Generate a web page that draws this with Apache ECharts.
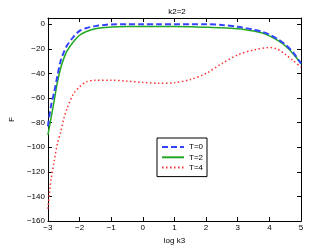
<!DOCTYPE html>
<html><head><meta charset="utf-8">
<script src="https://cdn.jsdelivr.net/npm/echarts@6/dist/echarts.min.js"></script>
<style>html,body{margin:0;padding:0;background:#fff}#c{width:332px;height:250px}</style>
</head><body><div id="c"></div>
<script>
const titleText = 'k2=2';
const xName = 'log k3';
const yName = 'F';
const seriesNames = ['T=0', 'T=2', 'T=4'];

const xT0 = [-3, -2.9, -2.8, -2.7, -2.6, -2.5, -2.4, -2.2, -2, -1.8, -1.5, -1.2, -1, -0.5, 0, 0.5, 1, 1.5, 2, 2.5, 3, 3.25, 3.5, 3.75, 4, 4.25, 4.5, 4.75, 5];
const yT0 = [-83, -66, -55, -42, -30, -23, -17.5, -10.5, -5.5, -3.3, -1.6, -0.6, -0.2, 0, 0, 0, 0, 0, -0.1, -0.6, -2.2, -3.2, -4.5, -6, -8.5, -12, -16.5, -23, -32];

const xT2 = [-3, -2.9, -2.8, -2.7, -2.6, -2.5, -2.4, -2.2, -2, -1.8, -1.5, -1.2, -1, -0.5, 0, 0.5, 1, 1.5, 2, 2.5, 3, 3.25, 3.5, 3.75, 4, 4.25, 4.5, 4.75, 5];
const yT2 = [-90, -76, -62, -47, -36, -28, -22, -14.5, -9, -6.2, -3.8, -2.8, -2.3, -2, -2, -2, -2, -2.1, -2.5, -3, -3.8, -4.5, -5.5, -7, -9.5, -13, -17.5, -24, -32];

const xT4 = [-3, -2.95, -2.9, -2.8, -2.7, -2.6, -2.5, -2.4, -2.2, -2, -1.8, -1.5, -1, -0.5, 0, 0.5, 1, 1.5, 2, 2.5, 3, 3.5, 4, 4.25, 4.5, 4.75, 5];
const yT4 = [-150, -137, -126, -111, -97, -88, -77, -69, -57, -51, -47, -45.5, -45.5, -46.3, -47.3, -48, -47.5, -45, -40, -32, -25, -21, -19, -20.3, -24.5, -29.5, -35];

const xTicks = [-3, -2, -1, 0, 1, 2, 3, 4, 5];
const yTicks = [-160, -140, -120, -100, -80, -60, -40, -20, 0];

function pairs(xs, ys) { return xs.map((x, i) => [x, ys[i]]); }
const fmt = v => String(v).replace('-', '\u2212');

const font = 'Liberation Sans';
const axisLine = { show: true, onZero: false, lineStyle: { color: '#000', width: 1 } };
const tick = { show: true, inside: true, length: 4, lineStyle: { color: '#000' } };

const chart = echarts.init(document.getElementById('c'), null, { renderer: 'canvas' });
chart.setOption({
  animation: false,
  backgroundColor: '#fff',
  textStyle: { fontFamily: font },
  title: { text: titleText, left: 172, top: 3, textAlign: 'center',
    textStyle: { fontFamily: font, fontSize: 8, fontWeight: 'normal', color: '#000' } },
  grid: { left: 43, right: 31, top: 18, bottom: 28, containLabel: false },
  legend: {
    orient: 'vertical', left: 157, top: 138,
    padding: [5, 4, 5, 4], itemGap: 2.3, itemWidth: 22, itemHeight: 8,
    backgroundColor: '#fff', borderColor: '#000', borderWidth: 1, borderRadius: 0,
    itemStyle: { opacity: 0 },
    textStyle: { fontFamily: font, fontSize: 8, color: '#000', lineHeight: 8 },
    data: seriesNames
  },
  xAxis: [
    { type: 'value', min: -3, max: 5, interval: 1, position: 'bottom',
      axisLine, axisTick: tick, splitLine: { show: false },
      axisLabel: { fontFamily: font, fontSize: 8, color: '#000', margin: 3,
        formatter: v => xTicks.includes(v) ? fmt(v) : '' },
      name: xName, nameLocation: 'middle', nameGap: 13,
      nameTextStyle: { fontFamily: font, fontSize: 8, color: '#000' } },
    { type: 'value', min: -3, max: 5, interval: 1, position: 'top',
      axisLine, axisTick: tick, splitLine: { show: false }, axisLabel: { show: false } }
  ],
  yAxis: [
    { type: 'value', min: -160, max: 5, interval: 20, position: 'left',
      axisLine, axisTick: tick, splitLine: { show: false },
      axisLabel: { fontFamily: font, fontSize: 8, color: '#000', margin: 3, showMaxLabel: false,
        formatter: v => yTicks.includes(v) ? fmt(v) : '' },
      name: yName, nameLocation: 'middle', nameGap: 27,
      nameTextStyle: { fontFamily: font, fontSize: 8, color: '#000' } },
    { type: 'value', min: -160, max: 5, interval: 20, position: 'right',
      axisLine, axisTick: tick, splitLine: { show: false }, axisLabel: { show: false } }
  ],
  series: [
    { name: seriesNames[0], type: 'line', data: pairs(xT0, yT0), smooth: 0.3, symbol: 'none',
      color: '#3344ff', lineStyle: { color: '#3344ff', width: 2, type: [6, 3] }, z: 3 },
    { name: seriesNames[1], type: 'line', data: pairs(xT2, yT2), smooth: 0.3, symbol: 'none',
      color: '#22a822', lineStyle: { color: '#22a822', width: 1.5, type: 'solid' }, z: 2 },
    { name: seriesNames[2], type: 'line', data: pairs(xT4, yT4), smooth: 0.3, symbol: 'none',
      color: '#ff3333', lineStyle: { color: '#ff3333', width: 1.5, type: [1.5, 2.5] }, z: 1 }
  ]
});
</script></body></html>
